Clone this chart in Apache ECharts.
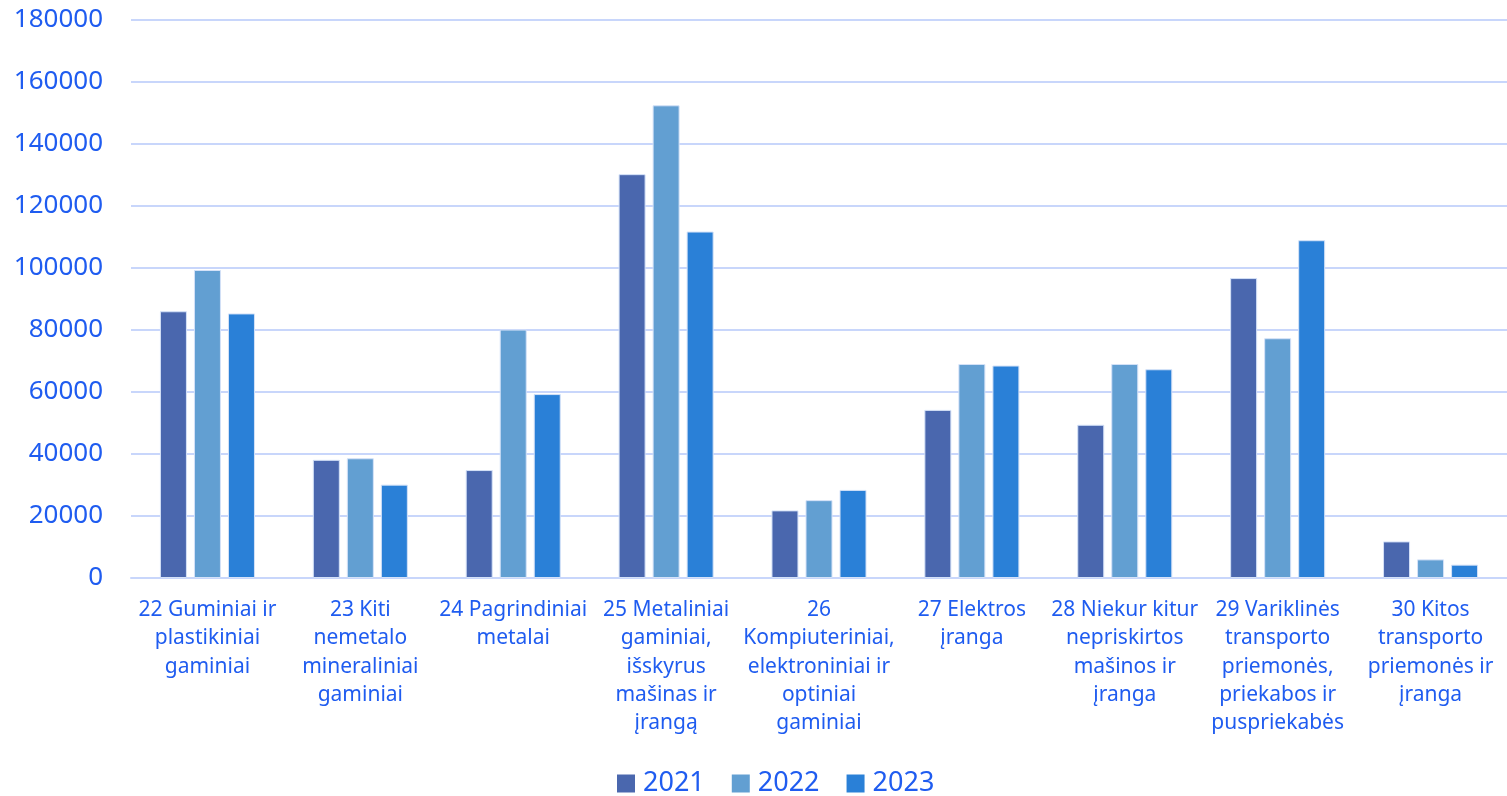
<!DOCTYPE html>
<html>
<head>
<meta charset="utf-8">
<script src="https://cdn.jsdelivr.net/npm/echarts@6/dist/echarts.min.js"></script>
<style>
html,body{margin:0;padding:0;background:#fff;}
#chart{width:1507px;height:796px;}
</style>
</head>
<body>
<div id="chart"></div>
<script>
const categories = [
  "22 Guminiai ir\nplastikiniai\ngaminiai",
  "23 Kiti\nnemetalo\nmineraliniai\ngaminiai",
  "24 Pagrindiniai\nmetalai",
  "25 Metaliniai\ngaminiai,\nišskyrus\nmašinas ir\nįrangą",
  "26\nKompiuteriniai,\nelektroniniai ir\noptiniai\ngaminiai",
  "27 Elektros\nįranga",
  "28 Niekur kitur\nnepriskirtos\nmašinos ir\nįranga",
  "29 Variklinės\ntransporto\npriemonės,\npriekabos ir\npuspriekabės",
  "30 Kitos\ntransporto\npriemonės ir\nįranga"
];
const seriesNames = ["2021", "2022", "2023"];
const values2021 = [86000, 38100, 34800, 130200, 21800, 54200, 49400, 96700, 11800];
const values2022 = [99300, 38600, 80100, 152400, 25100, 69000, 69000, 77300, 6000];
const values2023 = [85300, 30100, 59300, 111700, 28400, 68500, 67300, 108900, 4300];
const yTicks = { min: 0, max: 180000, interval: 20000 };

const colors = ["#4a67ae", "#629fd2", "#2a80d7"];
const textColor = "#1f5cf0";
const gridColor = "#c8d6fb";
const font = "'Noto Sans', 'Open Sans', sans-serif";

const chart = echarts.init(document.getElementById('chart'), null, {renderer: 'canvas'});
const allValues = [values2021, values2022, values2023];
chart.setOption({
  animation: false,
  color: colors,
  grid: { left: 131, right: 0, top: 19.7, bottom: 218, containLabel: false },
  legend: {
    top: 770,
    left: 617,
    padding: 0,
    itemWidth: 18,
    itemHeight: 18,
    itemGap: 27,
    icon: 'rect',
    itemStyle: { borderWidth: 0 },
    textStyle: { color: textColor, fontSize: 27, fontFamily: font, padding: [0, 0, 0, 3] },
    data: seriesNames
  },
  xAxis: {
    type: 'category',
    data: categories,
    axisLine: { lineStyle: { color: gridColor, width: 2 } },
    axisTick: { show: false },
    axisLabel: {
      interval: 0,
      color: textColor,
      fontSize: 21,
      lineHeight: 28.3,
      fontFamily: font,
      margin: 18,
      align: 'center'
    }
  },
  yAxis: {
    type: 'value',
    min: yTicks.min,
    max: yTicks.max,
    interval: yTicks.interval,
    axisLine: { show: false },
    axisTick: { show: false },
    splitLine: { lineStyle: { color: gridColor, width: 2 } },
    axisLabel: { color: textColor, fontSize: 26, fontFamily: font, margin: 28, formatter: v => String(v) }
  },
  series: seriesNames.map((name, i) => ({
    name: name,
    type: 'bar',
    data: allValues[i],
    barWidth: 27,
    barGap: '26%',
    itemStyle: { color: colors[i], borderColor: '#d5e2f8', borderWidth: 1 }
  }))
});
</script>
</body>
</html>
